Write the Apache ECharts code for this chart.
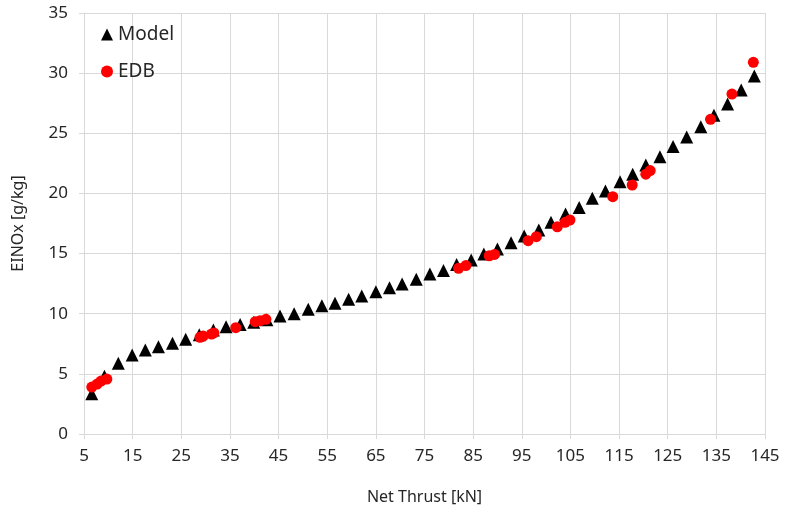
<!DOCTYPE html>
<html>
<head>
<meta charset="utf-8">
<script src="https://cdn.jsdelivr.net/npm/echarts@6/dist/echarts.min.js"></script>
<style>html,body{margin:0;padding:0;background:#fff}#c{width:787px;height:516px}</style>
</head>
<body>
<div id="c"></div>
<script>
var modelX = [6.6, 9.2, 12.05, 14.9, 17.6, 20.3, 23.2, 25.9, 28.7, 31.6, 34.2, 37.1, 39.9, 42.6, 45.3, 48.2, 51.1, 53.9, 56.6, 59.4, 62.1, 65.0, 67.8, 70.4, 73.3, 76.1, 78.9, 81.6, 84.6, 87.2, 90.0, 92.8, 95.5, 98.5, 101.0, 104.0, 106.8, 109.5, 112.2, 115.2, 117.8, 120.5, 123.4, 126.1, 128.9, 131.8, 134.5, 137.3, 140.1, 142.8];
var modelY = [3.35, 4.8, 5.88, 6.57, 6.98, 7.26, 7.54, 7.87, 8.25, 8.64, 8.92, 9.1, 9.3, 9.5, 9.8, 10.0, 10.37, 10.67, 10.86, 11.2, 11.47, 11.83, 12.16, 12.47, 12.86, 13.3, 13.6, 14.1, 14.46, 14.96, 15.38, 15.9, 16.46, 16.96, 17.6, 18.3, 18.84, 19.59, 20.2, 20.97, 21.6, 22.36, 23.05, 23.9, 24.7, 25.55, 26.5, 27.43, 28.6, 29.76];
var edbX = [6.6, 7.7, 8.5, 9.7, 28.85, 29.5, 31.2, 31.7, 36.2, 40.2, 41.2, 42.4, 82.0, 83.5, 88.3, 89.4, 96.3, 98.0, 102.3, 103.9, 104.9, 113.7, 117.7, 120.5, 121.4, 133.8, 138.2, 142.6];
var edbY = [3.9, 4.15, 4.4, 4.57, 8.04, 8.14, 8.31, 8.4, 8.84, 9.34, 9.42, 9.53, 13.77, 14.0, 14.82, 14.93, 16.07, 16.4, 17.23, 17.6, 17.79, 19.73, 20.7, 21.6, 21.9, 26.16, 28.26, 30.9];
var xTicks = [5, 15, 25, 35, 45, 55, 65, 75, 85, 95, 105, 115, 125, 135, 145];
var seriesNames = ['Model', 'EDB'];
var xTitle = 'Net Thrust [kN]';
var yTitle = 'EINOx [g/kg]';

function zip(a, b) { return a.map(function (v, i) { return [v, b[i]]; }); }

var font = 'Noto Sans';
var txt = '#262626';
var chart = echarts.init(document.getElementById('c'), null, { renderer: 'canvas' });
chart.setOption({
  animation: false,
  backgroundColor: '#ffffff',
  grid: { left: 84, right: 22, top: 13, bottom: 82, containLabel: false },
  legend: {
    orient: 'vertical', left: 96, top: 20, itemGap: 18,
    itemWidth: 12, itemHeight: 12,
    textStyle: { fontFamily: font, fontSize: 19, color: txt },
    data: [
      { name: seriesNames[0], icon: 'triangle' },
      { name: seriesNames[1], icon: 'circle' }
    ]
  },
  xAxis: {
    type: 'value', min: 5, max: 145,
    name: xTitle, nameLocation: 'middle', nameGap: 55,
    nameTextStyle: { fontFamily: font, fontSize: 16, color: txt },
    axisLine: { show: true, lineStyle: { color: '#d9d9d9', width: 1 } },
    axisTick: { show: true, length: 5, lineStyle: { color: '#d9d9d9' }, customValues: xTicks },
    axisLabel: { fontFamily: font, fontSize: 17, color: txt, margin: 14, customValues: xTicks },
    splitLine: { show: true, lineStyle: { color: '#d9d9d9', width: 1 } }
  },
  yAxis: {
    type: 'value', min: 0, max: 35, interval: 5,
    name: yTitle, nameLocation: 'middle', nameGap: 58,
    nameTextStyle: { fontFamily: font, fontSize: 16, color: txt },
    axisLine: { show: true, lineStyle: { color: '#d9d9d9', width: 1 } },
    axisTick: { show: true, length: 5, lineStyle: { color: '#d9d9d9' } },
    axisLabel: { fontFamily: font, fontSize: 17, color: txt, margin: 16 },
    splitLine: { show: true, lineStyle: { color: '#d9d9d9', width: 1 } }
  },
  series: [
    { name: seriesNames[0], type: 'scatter', symbol: 'triangle', symbolSize: 13,
      itemStyle: { color: '#000000', opacity: 1 }, data: zip(modelX, modelY), z: 2 },
    { name: seriesNames[1], type: 'scatter', symbol: 'circle', symbolSize: 11,
      itemStyle: { color: '#ff0000', opacity: 1 }, data: zip(edbX, edbY), z: 3 }
  ]
});
</script>
</body>
</html>
